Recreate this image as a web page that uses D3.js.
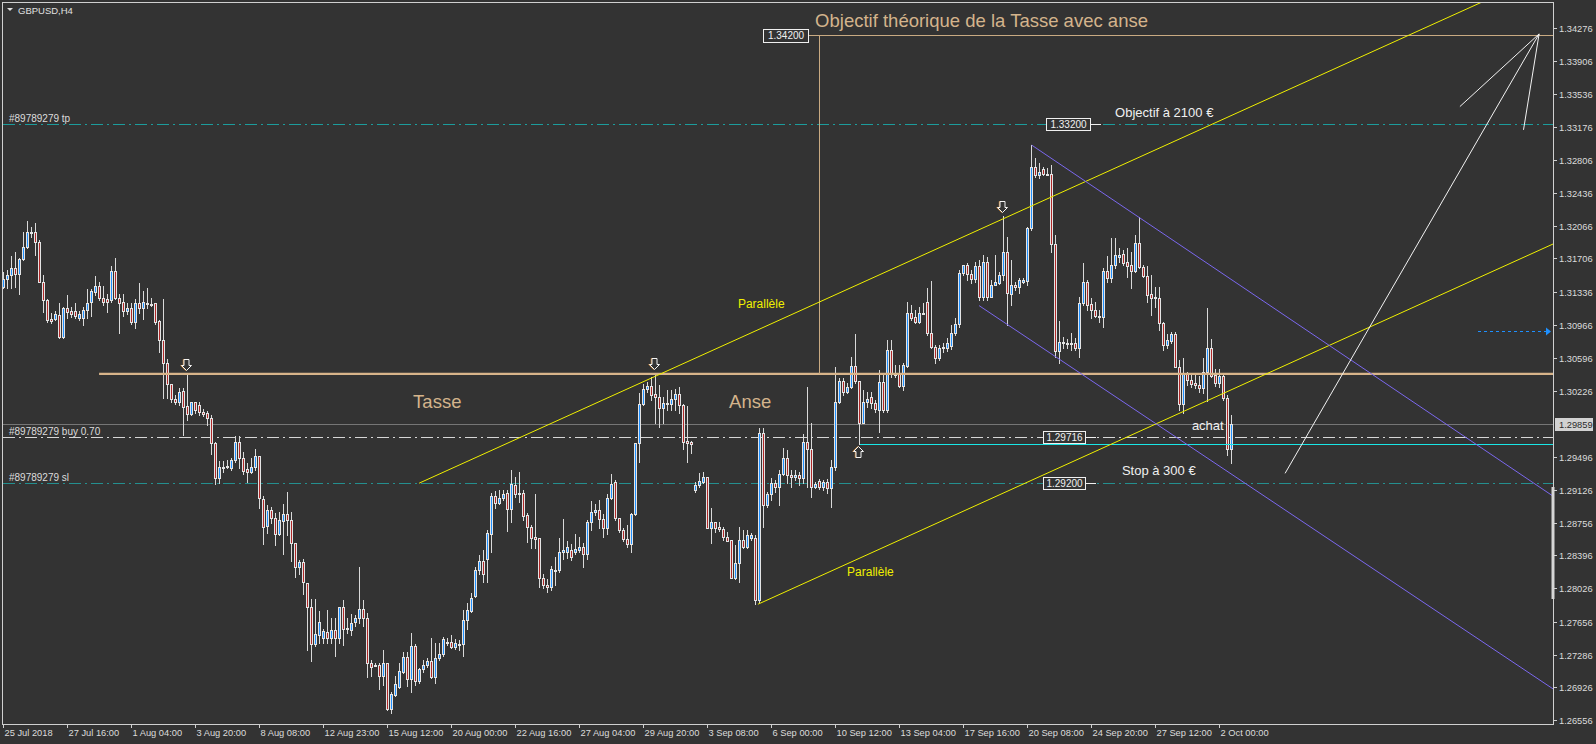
<!DOCTYPE html>
<html><head><meta charset="utf-8">
<script src="https://cdn.jsdelivr.net/npm/d3@7"></script>
<style>
html,body{margin:0;padding:0;background:#333333;overflow:hidden}
svg{display:block}
text{font-family:"Liberation Sans",Arial,sans-serif}
</style></head><body>
<svg id="c" width="1596" height="744"></svg>
<script>
// ---------- DATA (GBPUSD H4, 25 Jul 2018 -> 2 Oct 2018) ----------
const open = [1.3139,1.3148,1.3152,1.3160,1.3153,1.3170,1.3183,1.3200,1.3200,1.3189,
1.3144,1.3124,1.3103,1.3103,1.3108,1.3083,1.3115,1.3112,1.3112,1.3104,
1.3104,1.3113,1.3122,1.3133,1.3140,1.3127,1.3125,1.3124,1.3157,1.3127,
1.3122,1.3112,1.3115,1.3100,1.3121,1.3115,1.3121,1.3120,1.3121,1.3101,
1.3080,1.3054,1.3031,1.3014,1.3011,1.3023,1.3006,1.2997,1.3011,1.3007,
1.2999,1.2998,1.2993,1.2965,1.2926,1.2938,1.2938,1.2937,1.2946,1.2966,
1.2948,1.2936,1.2932,1.2938,1.2950,1.2902,1.2872,1.2890,1.2881,1.2863,
1.2878,1.2886,1.2879,1.2853,1.2827,1.2832,1.2809,1.2782,1.2741,1.2751,
1.2747,1.2754,1.2747,1.2756,1.2747,1.2782,1.2758,1.2756,1.2765,1.2770,
1.2780,1.2770,1.2719,1.2717,1.2717,1.2705,1.2719,1.2668,1.2684,1.2693,
1.2709,1.2726,1.2702,1.2738,1.2699,1.2713,1.2717,1.2722,1.2704,1.2725,
1.2730,1.2743,1.2743,1.2737,1.2741,1.2741,1.2767,1.2778,1.2794,1.2823,
1.2833,1.2835,1.2863,1.2906,1.2898,1.2903,1.2909,1.2891,1.2918,1.2909,
1.2909,1.2884,1.2871,1.2860,1.2859,1.2814,1.2806,1.2804,1.2823,1.2823,
1.2843,1.2843,1.2845,1.2843,1.2845,1.2849,1.2841,1.2877,1.2888,1.2890,
1.2880,1.2870,1.2904,1.2921,1.2881,1.2868,1.2858,1.2852,1.2886,1.2965,
1.3008,1.3025,1.3028,1.3019,1.3016,1.3004,1.3008,1.3008,1.3014,1.3019,
1.3007,1.2967,1.2966,1.2912,1.2918,1.2921,1.2927,1.2870,1.2877,1.2871,
1.2869,1.2860,1.2857,1.2814,1.2831,1.2857,1.2849,1.2859,1.2859,1.2790,
1.2976,1.2896,1.2908,1.2920,1.2916,1.2930,1.2948,1.2929,1.2927,1.2929,
1.2926,1.2966,1.2958,1.2916,1.2923,1.2916,1.2921,1.2915,1.2938,1.3011,
1.3034,1.3022,1.3027,1.3051,1.3034,1.2987,1.3011,1.3016,1.3009,1.3002,
1.3033,1.3002,1.3069,1.3043,1.3042,1.3028,1.3051,1.3110,1.3105,1.3100,
1.3109,1.3122,1.3088,1.3072,1.3060,1.3071,1.3071,1.3073,1.3088,1.3098,
1.3154,1.3163,1.3153,1.3148,1.3162,1.3128,1.3167,1.3128,1.3141,1.3143,
1.3152,1.3178,1.3131,1.3141,1.3139,1.3144,1.3145,1.3205,1.3273,1.3264,
1.3270,1.3265,1.3265,1.3187,1.3067,1.3077,1.3076,1.3076,1.3076,1.3071,
1.3121,1.3144,1.3120,1.3113,1.3107,1.3105,1.3157,1.3149,1.3163,1.3172,
1.3176,1.3167,1.3163,1.3157,1.3188,1.3161,1.3151,1.3131,1.3128,1.3127,
1.3099,1.3074,1.3079,1.3086,1.3050,1.3008,1.3042,1.3035,1.3032,1.3030,
1.3026,1.3044,1.3071,1.3041,1.3032,1.3040,1.3015,1.2958];

const high = [1.3156,1.3158,1.3173,1.3178,1.3171,1.3200,1.3212,1.3206,1.3210,1.3191,
1.3152,1.3125,1.3110,1.3112,1.3121,1.3117,1.3130,1.3117,1.3121,1.3112,
1.3117,1.3137,1.3137,1.3151,1.3144,1.3140,1.3131,1.3162,1.3171,1.3131,
1.3131,1.3121,1.3121,1.3125,1.3143,1.3134,1.3138,1.3127,1.3121,1.3102,
1.3125,1.3058,1.3031,1.3018,1.3026,1.3026,1.3042,1.3011,1.3011,1.3011,
1.3003,1.3000,1.2996,1.2966,1.2945,1.2945,1.2946,1.2948,1.2973,1.2973,
1.2955,1.2943,1.2948,1.2958,1.2950,1.2906,1.2896,1.2893,1.2887,1.2888,
1.2897,1.2910,1.2888,1.2853,1.2834,1.2835,1.2809,1.2791,1.2791,1.2777,
1.2757,1.2779,1.2770,1.2770,1.2782,1.2790,1.2770,1.2774,1.2773,1.2826,
1.2790,1.2775,1.2723,1.2719,1.2719,1.2734,1.2719,1.2687,1.2705,1.2719,
1.2732,1.2732,1.2753,1.2741,1.2714,1.2723,1.2725,1.2747,1.2742,1.2742,
1.2749,1.2747,1.2751,1.2746,1.2745,1.2779,1.2786,1.2798,1.2826,1.2840,
1.2846,1.2868,1.2909,1.2911,1.2912,1.2912,1.2912,1.2935,1.2927,1.2932,
1.2912,1.2887,1.2873,1.2908,1.2859,1.2819,1.2813,1.2828,1.2838,1.2859,
1.2880,1.2855,1.2852,1.2863,1.2860,1.2853,1.2879,1.2900,1.2897,1.2901,
1.2886,1.2908,1.2930,1.2924,1.2881,1.2870,1.2873,1.2887,1.2965,1.3021,
1.3031,1.3033,1.3038,1.3043,1.3030,1.3016,1.3024,1.3024,1.3025,1.3027,
1.3008,1.3006,1.2967,1.2921,1.2931,1.2933,1.2927,1.2892,1.2877,1.2877,
1.2871,1.2866,1.2857,1.2851,1.2871,1.2868,1.2868,1.2864,1.2862,1.2982,
1.2982,1.2910,1.2926,1.2924,1.2935,1.2959,1.2957,1.2935,1.2935,1.2932,
1.2975,1.3027,1.2987,1.2921,1.2925,1.2924,1.2925,1.2946,1.3050,1.3037,
1.3037,1.3032,1.3061,1.3086,1.3034,1.3024,1.3022,1.3022,1.3013,1.3046,
1.3041,1.3080,1.3080,1.3052,1.3052,1.3054,1.3122,1.3119,1.3113,1.3117,
1.3121,1.3138,1.3145,1.3074,1.3074,1.3076,1.3082,1.3096,1.3104,1.3158,
1.3163,1.3166,1.3158,1.3167,1.3169,1.3174,1.3172,1.3147,1.3174,1.3155,
1.3218,1.3195,1.3169,1.3144,1.3149,1.3149,1.3206,1.3297,1.3283,1.3277,
1.3273,1.3271,1.3275,1.3197,1.3101,1.3083,1.3081,1.3088,1.3082,1.3128,
1.3166,1.3147,1.3127,1.3122,1.3113,1.3160,1.3173,1.3193,1.3193,1.3182,
1.3180,1.3182,1.3178,1.3197,1.3217,1.3163,1.3162,1.3152,1.3139,1.3139,
1.3100,1.3086,1.3089,1.3089,1.3057,1.3060,1.3044,1.3041,1.3041,1.3040,
1.3060,1.3115,1.3081,1.3047,1.3047,1.3043,1.3018,1.2996];

const low = [1.3138,1.3138,1.3138,1.3139,1.3131,1.3169,1.3182,1.3195,1.3174,1.3144,
1.3111,1.3100,1.3099,1.3102,1.3082,1.3082,1.3104,1.3105,1.3104,1.3102,
1.3096,1.3104,1.3106,1.3130,1.3124,1.3119,1.3111,1.3122,1.3125,1.3088,
1.3106,1.3109,1.3098,1.3093,1.3110,1.3103,1.3115,1.3118,1.3098,1.3066,
1.3015,1.3015,1.3011,1.3008,1.3007,1.2974,1.2990,1.2996,1.2998,1.2996,
1.2995,1.2985,1.2953,1.2919,1.2920,1.2932,1.2937,1.2935,1.2944,1.2937,
1.2930,1.2921,1.2931,1.2935,1.2892,1.2852,1.2864,1.2876,1.2851,1.2862,
1.2841,1.2862,1.2833,1.2815,1.2819,1.2796,1.2734,1.2722,1.2739,1.2742,
1.2742,1.2742,1.2742,1.2727,1.2742,1.2740,1.2753,1.2751,1.2761,1.2764,
1.2761,1.2704,1.2705,1.2716,1.2691,1.2695,1.2667,1.2664,1.2683,1.2692,
1.2708,1.2694,1.2687,1.2695,1.2697,1.2709,1.2715,1.2703,1.2697,1.2723,
1.2727,1.2740,1.2736,1.2735,1.2734,1.2727,1.2757,1.2776,1.2793,1.2819,
1.2810,1.2810,1.2843,1.2892,1.2897,1.2901,1.2867,1.2877,1.2905,1.2899,
1.2879,1.2854,1.2848,1.2848,1.2804,1.2803,1.2799,1.2801,1.2806,1.2821,
1.2835,1.2837,1.2834,1.2841,1.2843,1.2827,1.2835,1.2868,1.2884,1.2870,
1.2860,1.2863,1.2902,1.2879,1.2866,1.2855,1.2849,1.2843,1.2884,1.2944,
1.3007,1.3022,1.3013,1.2987,1.2983,1.2987,1.3002,1.3002,1.3002,1.2998,
1.2958,1.2944,1.2954,1.2910,1.2916,1.2920,1.2870,1.2853,1.2866,1.2867,
1.2857,1.2855,1.2814,1.2813,1.2810,1.2848,1.2848,1.2857,1.2785,1.2788,
1.2871,1.2893,1.2901,1.2910,1.2896,1.2929,1.2920,1.2916,1.2924,1.2918,
1.2920,1.2916,1.2905,1.2915,1.2914,1.2912,1.2909,1.2893,1.2935,1.3009,
1.3018,1.3021,1.3026,1.3032,1.2964,1.2987,1.3005,1.3004,1.2999,1.2977,
1.2999,1.2999,1.3038,1.3038,1.3027,1.3024,1.3050,1.3102,1.3099,1.3099,
1.3109,1.3085,1.3071,1.3054,1.3057,1.3066,1.3067,1.3070,1.3085,1.3094,
1.3152,1.3147,1.3143,1.3144,1.3124,1.3124,1.3124,1.3132,1.3141,1.3142,
1.3147,1.3096,1.3119,1.3135,1.3132,1.3143,1.3141,1.3202,1.3261,1.3260,
1.3264,1.3264,1.3178,1.3061,1.3054,1.3071,1.3071,1.3069,1.3069,1.3061,
1.3119,1.3113,1.3104,1.3105,1.3100,1.3094,1.3144,1.3144,1.3160,1.3167,
1.3163,1.3150,1.3138,1.3155,1.3160,1.3150,1.3122,1.3108,1.3117,1.3091,
1.3069,1.3071,1.3076,1.3050,1.3002,1.2998,1.3030,1.3027,1.3026,1.3022,
1.3021,1.3012,1.3038,1.3028,1.3027,1.3013,1.2951,1.2943];

const close = [1.3148,1.3152,1.3160,1.3153,1.3170,1.3183,1.3200,1.3200,1.3189,1.3144,
1.3124,1.3102,1.3101,1.3109,1.3083,1.3115,1.3111,1.3109,1.3107,1.3109,
1.3113,1.3121,1.3134,1.3140,1.3127,1.3122,1.3122,1.3157,1.3127,1.3121,
1.3112,1.3115,1.3100,1.3121,1.3115,1.3122,1.3121,1.3120,1.3100,1.3080,
1.3054,1.3031,1.3014,1.3011,1.3022,1.3005,1.2997,1.3011,1.3002,1.2999,
1.2997,1.2993,1.2965,1.2926,1.2938,1.2938,1.2939,1.2946,1.2966,1.2948,
1.2934,1.2932,1.2938,1.2950,1.2904,1.2871,1.2890,1.2881,1.2863,1.2879,
1.2886,1.2879,1.2853,1.2827,1.2832,1.2810,1.2782,1.2741,1.2752,1.2765,
1.2755,1.2747,1.2756,1.2747,1.2782,1.2757,1.2757,1.2764,1.2770,1.2780,
1.2770,1.2719,1.2715,1.2717,1.2705,1.2719,1.2668,1.2685,1.2696,1.2711,
1.2726,1.2702,1.2738,1.2699,1.2713,1.2717,1.2722,1.2704,1.2725,1.2730,
1.2746,1.2743,1.2737,1.2742,1.2741,1.2767,1.2779,1.2792,1.2823,1.2833,
1.2819,1.2865,1.2906,1.2898,1.2903,1.2908,1.2891,1.2919,1.2908,1.2908,
1.2883,1.2871,1.2859,1.2858,1.2814,1.2806,1.2804,1.2824,1.2823,1.2843,
1.2846,1.2849,1.2838,1.2847,1.2849,1.2841,1.2877,1.2888,1.2890,1.2880,
1.2870,1.2904,1.2919,1.2881,1.2868,1.2858,1.2852,1.2886,1.2965,1.3008,
1.3025,1.3028,1.3018,1.3016,1.3004,1.3009,1.3009,1.3014,1.3019,1.3007,
1.2966,1.2965,1.2964,1.2918,1.2923,1.2927,1.2870,1.2877,1.2870,1.2869,
1.2860,1.2856,1.2814,1.2831,1.2857,1.2849,1.2862,1.2862,1.2790,1.2976,
1.2896,1.2908,1.2920,1.2916,1.2930,1.2948,1.2929,1.2927,1.2929,1.2926,
1.2966,1.2958,1.2916,1.2919,1.2916,1.2921,1.2915,1.2938,1.3011,1.3034,
1.3022,1.3027,1.3051,1.3034,1.2987,1.3011,1.3014,1.3009,1.3003,1.3033,
1.3002,1.3069,1.3043,1.3041,1.3028,1.3052,1.3110,1.3104,1.3100,1.3110,
1.3110,1.3088,1.3072,1.3060,1.3071,1.3072,1.3076,1.3088,1.3098,1.3154,
1.3163,1.3153,1.3148,1.3162,1.3128,1.3167,1.3128,1.3141,1.3144,1.3152,
1.3178,1.3132,1.3141,1.3139,1.3147,1.3147,1.3205,1.3273,1.3264,1.3267,
1.3265,1.3265,1.3187,1.3067,1.3077,1.3077,1.3076,1.3076,1.3071,1.3121,
1.3144,1.3119,1.3113,1.3107,1.3105,1.3157,1.3149,1.3163,1.3174,1.3174,
1.3166,1.3162,1.3157,1.3188,1.3161,1.3151,1.3130,1.3127,1.3127,1.3099,
1.3074,1.3080,1.3086,1.3050,1.3008,1.3042,1.3035,1.3031,1.3030,1.3026,
1.3044,1.3071,1.3040,1.3032,1.3040,1.3015,1.2958,1.2986];

const timeLabels = ["25 Jul 2018","27 Jul 16:00","1 Aug 04:00","3 Aug 20:00","8 Aug 08:00",
"12 Aug 23:00","15 Aug 12:00","20 Aug 00:00","22 Aug 16:00","27 Aug 04:00","29 Aug 20:00",
"3 Sep 08:00","6 Sep 00:00","10 Sep 12:00","13 Sep 04:00","17 Sep 16:00","20 Sep 08:00",
"24 Sep 20:00","27 Sep 12:00","2 Oct 00:00"];
const barsPerLabel = 16;
const priceTicks = ["1.34276","1.33906","1.33536","1.33176","1.32806","1.32436","1.32066",
"1.31706","1.31336","1.30966","1.30596","1.30226","1.29496","1.29126","1.28756","1.28396",
"1.28026","1.27656","1.27286","1.26926","1.26556"];

const bidPrice = 1.29859, tpPrice = 1.33200, buyPrice = 1.29716, slPrice = 1.29200;
const necklinePrice = 1.3042, targetPrice = 1.3420, entryZonePrice = 1.2964;
// trend lines: [barIndex, price] anchors
const upperParallel = [[103.9, 1.2920], [250, 1.3215]];
const lowerParallel = [[188.6, 1.2785], [294, 1.2998]];
const upperChannel  = [[257.05, 1.3297], [305, 1.3153]];
const lowerChannel  = [[243.9, 1.3118], [305, 1.2936]];
const targetArrows  = [[[320.4, 1.2931], [383.9, 1.3421]], [[383.9, 1.3421], [364.1, 1.3340]], [[383.9, 1.3421], [380.0, 1.3314]]];
const downMarks = [46, 163, 250];
const upMarks = [214];

// ---------- CHART ----------
const W = 1596, H = 744;
const L = 3, T = 3, R = 1553, B = 724;
const svg = d3.select('#c');
const x = d3.scaleLinear().domain([0, 387.375]).range([3.5, R]);
const y = d3.scaleLinear().domain([1.26556, 1.34276]).range([720.3, 28]);
const N = close.length;

svg.append('rect').attr('width', W).attr('height', H).attr('fill', '#333333');
svg.append('defs').append('clipPath').attr('id', 'clip')
  .append('rect').attr('x', L).attr('y', T).attr('width', R - L).attr('height', B - T);
const gBack = svg.append('g').attr('clip-path', 'url(#clip)');
const gC = svg.append('g').attr('clip-path', 'url(#clip)').attr('shape-rendering', 'crispEdges');
const gTop = svg.append('g').attr('clip-path', 'url(#clip)');

const py = p => Math.round(y(p)) + 0.5;

// trade lines
function hline(g, p, x0, color, dash, w) {
  g.append('line').attr('x1', x0).attr('x2', R).attr('y1', py(p)).attr('y2', py(p))
    .attr('stroke', color).attr('stroke-width', w || 1)
    .attr('stroke-dasharray', dash || null).attr('shape-rendering', 'crispEdges');
}
hline(gBack, bidPrice, L, '#767676');
hline(gBack, tpPrice, L, '#1c9c9c', '12,4,2,4');
hline(gBack, slPrice, L, '#248f8f', '12,4,2,4');
hline(gBack, buyPrice, L, '#d6d6d6', '12,4,2,4');

// candles
const cd = d3.range(N).map(i => ({ i, o: open[i], h: high[i], l: low[i], c: close[i] }));
const cx = d => Math.floor(x(d.i)) + 0.5;
gC.selectAll('line.wick').data(cd).join('line').attr('class', 'wick')
  .attr('x1', cx).attr('x2', cx)
  .attr('y1', d => Math.round(y(d.h))).attr('y2', d => Math.round(y(d.l)) + 1)
  .attr('stroke', '#d9d9d9');
const bodyTop = d => Math.round(y(Math.max(d.o, d.c)));
const bodyH = d => Math.max(1, Math.round(y(Math.min(d.o, d.c))) - bodyTop(d));
gC.selectAll('rect.body').data(cd).join('rect').attr('class', 'body')
  .attr('x', d => cx(d) - 1.5).attr('width', 3)
  .attr('y', bodyTop).attr('height', d => bodyH(d) + 1)
  .attr('fill', '#e4e4e4');
gC.selectAll('rect.fill').data(cd.filter(d => bodyH(d) >= 2)).join('rect').attr('class', 'fill')
  .attr('x', d => cx(d) - 0.5).attr('width', 1)
  .attr('y', d => bodyTop(d) + 1).attr('height', d => bodyH(d) - 1)
  .attr('fill', d => d.c >= d.o ? '#1e8fff' : '#b02828');

// objects
function ray(pts, color, extend) {
  const [a, b] = pts;
  const x1 = x(a[0]), y1 = y(a[1]), x2 = x(b[0]), y2 = y(b[1]);
  const s = (y2 - y1) / (x2 - x1);
  const xe = extend ? R : x2, ye = extend ? y1 + s * (R - x1) : y2;
  gTop.append('line').attr('x1', x1).attr('y1', y1).attr('x2', xe).attr('y2', ye)
    .attr('stroke', color).attr('stroke-width', 1);
}
// neckline
gTop.append('line').attr('x1', x(23.9)).attr('x2', R).attr('y1', y(necklinePrice)).attr('y2', y(necklinePrice))
  .attr('stroke', '#d8b48a').attr('stroke-width', 2.2);
// target line + vertical
gTop.append('line').attr('x1', x(201.4)).attr('x2', R).attr('y1', py(targetPrice)).attr('y2', py(targetPrice))
  .attr('stroke', '#c9aa82').attr('stroke-width', 1).attr('shape-rendering', 'crispEdges');
gTop.append('line').attr('x1', Math.floor(x(203.9)) + 0.5).attr('x2', Math.floor(x(203.9)) + 0.5)
  .attr('y1', py(targetPrice)).attr('y2', y(necklinePrice))
  .attr('stroke', '#c9aa82').attr('stroke-width', 1).attr('shape-rendering', 'crispEdges');
// entry zone (cyan)
gTop.append('line').attr('x1', x(214)).attr('x2', R).attr('y1', py(entryZonePrice)).attr('y2', py(entryZonePrice))
  .attr('stroke', '#19e6e6').attr('stroke-width', 1).attr('shape-rendering', 'crispEdges');
ray(upperParallel, '#f0f000', true);
ray(lowerParallel, '#f0f000', true);
ray(upperChannel, '#7b68ee', true);
ray(lowerChannel, '#7b68ee', true);
targetArrows.forEach(seg => ray(seg, '#f2f2f2', false));

// blue dotted arrow (price marker)
const bY = py(1.3090);
gTop.append('line').attr('x1', x(368.6)).attr('x2', 1547).attr('y1', bY).attr('y2', bY)
  .attr('stroke', '#1e90ff').attr('stroke-dasharray', '3,3').attr('shape-rendering', 'crispEdges');
gTop.append('path').attr('d', `M1546,${bY - 4}L1551,${bY}L1546,${bY + 4}Z`).attr('fill', '#1e90ff');

// arrow marks
function arrowPath(c, tip, dir) {
  const s = dir;
  return `M${c - 2.5},${tip - s * 11}H${c + 2.5}V${tip - s * 5}H${c + 5}L${c},${tip}L${c - 5},${tip - s * 5}H${c - 2.5}Z`;
}
downMarks.forEach(i => {
  const c = Math.floor(x(i)) - 0.5, tip = Math.round(y(high[i])) - 3.5;
  gTop.append('path').attr('d', arrowPath(c - 0.7, tip, 1)).attr('fill', 'none').attr('stroke', '#d08a3a');
  gTop.append('path').attr('d', arrowPath(c, tip, 1)).attr('fill', '#333').attr('stroke', '#f4f4f4');
});
upMarks.forEach(i => {
  const c = Math.floor(x(i)) - 0.5, tip = Math.round(y(low[i])) + 2.5;
  gTop.append('path').attr('d', arrowPath(c - 0.7, tip, -1)).attr('fill', 'none').attr('stroke', '#d08a3a');
  gTop.append('path').attr('d', arrowPath(c, tip, -1)).attr('fill', '#333').attr('stroke', '#f4f4f4');
});

// price label boxes on lines
function priceBox(label, p, i0, w) {
  const yy = py(p), x0 = Math.round(x(i0)) + 0.5;
  gTop.append('line').attr('x1', x0 + w).attr('x2', x0 + w + 10).attr('y1', yy).attr('y2', yy)
    .attr('stroke', '#f0f0f0').attr('shape-rendering', 'crispEdges');
  gTop.append('rect').attr('x', x0).attr('y', yy - 6).attr('width', w).attr('height', 12)
    .attr('fill', '#333').attr('stroke', '#f0f0f0').attr('shape-rendering', 'crispEdges');
  gTop.append('text').attr('x', x0 + w / 2).attr('y', yy + 3.5).attr('text-anchor', 'middle')
    .attr('fill', '#f0f0f0').attr('font-size', 10).text(label);
}
priceBox('1.33200', tpPrice, 260.7, 44);
priceBox('1.29716', buyPrice, 259.9, 42);
priceBox('1.29200', slPrice, 259.9, 42);
(function () {
  const yy = py(targetPrice), x0 = Math.round(x(189.9)) + 0.5;
  gTop.append('rect').attr('x', x0).attr('y', yy - 6.5).attr('width', 45).attr('height', 13)
    .attr('fill', '#333').attr('stroke', '#f0f0f0').attr('shape-rendering', 'crispEdges');
  gTop.append('text').attr('x', x0 + 22.5).attr('y', yy + 3.5).attr('text-anchor', 'middle')
    .attr('fill', '#f0f0f0').attr('font-size', 10).text('1.34200');
})();

// annotation texts
function note(txt, i, p, size, color) {
  gTop.append('text').attr('x', x(i)).attr('y', y(p)).attr('font-size', size)
    .attr('fill', color).text(txt);
}
note('Objectif théorique de la Tasse avec anse', 202.9, 1.34287, 18.5, '#d4b48c');
note('Tasse', 102.4, 1.30038, 18.5, '#d4b48c');
note('Anse', 181.4, 1.30038, 18.5, '#d4b48c');
note('Parallèle', 183.6, 1.31154, 12, '#f0f000');
note('Parallèle', 210.9, 1.28165, 12, '#f0f000');
note('Objectif à 2100 €', 277.9, 1.33289, 13, '#f0f0f0');
note('Stop à 300 €', 279.6, 1.29286, 13, '#f0f0f0');
note('achat', 297.1, 1.29788, 13, '#f0f0f0');

// trade labels (left)
const lab = (t, p) => svg.append('text').attr('x', 9).attr('y', py(p) - 3).attr('font-size', 10)
  .attr('fill', '#dcdcdc').text(t);
lab('#89789279 tp', tpPrice);
lab('#89789279 buy 0.70', buyPrice);
lab('#89789279 sl', slPrice);

// frame
svg.append('rect').attr('x', L - 0.5).attr('y', T - 0.5).attr('width', R - L + 1).attr('height', B - T + 1)
  .attr('fill', 'none').attr('stroke', '#d0d0d0').attr('shape-rendering', 'crispEdges');

// right price axis
const ga = svg.append('g').attr('shape-rendering', 'crispEdges');
priceTicks.forEach(t => {
  const yy = py(+t);
  ga.append('line').attr('x1', R).attr('x2', R + 4).attr('y1', yy).attr('y2', yy).attr('stroke', '#d0d0d0');
  svg.append('text').attr('x', R + 6).attr('y', yy + 3.2).attr('font-size', 9.3).attr('fill', '#dcdcdc').text(t);
});
// current price tag
const by = py(bidPrice);
svg.append('rect').attr('x', R + 2).attr('y', by - 6.5).attr('width', 38).attr('height', 13).attr('fill', '#d2d2d2');
svg.append('text').attr('x', R + 6).attr('y', by + 3.2).attr('font-size', 9.3).attr('fill', '#2a2a2a').text(bidPrice.toFixed(5));
// scroll marker on axis
svg.append('rect').attr('x', R - 1.5).attr('y', 487).attr('width', 3).attr('height', 112).attr('fill', '#d6d6d6');

// bottom time axis
timeLabels.forEach((t, k) => {
  const xx = Math.floor(x(k * barsPerLabel)) + 0.5;
  ga.append('line').attr('x1', xx).attr('x2', xx).attr('y1', B).attr('y2', B + 4).attr('stroke', '#d0d0d0');
  svg.append('text').attr('x', xx + 1).attr('y', B + 12).attr('font-size', 9.3).attr('fill', '#dcdcdc').text(t);
});

// header
svg.append('path').attr('d', 'M7,8H13L10,11Z').attr('fill', '#e0e0e0');
svg.append('text').attr('x', 18).attr('y', 14).attr('font-size', 9.5).attr('fill', '#e0e0e0').text('GBPUSD,H4');
</script>
</body></html>
